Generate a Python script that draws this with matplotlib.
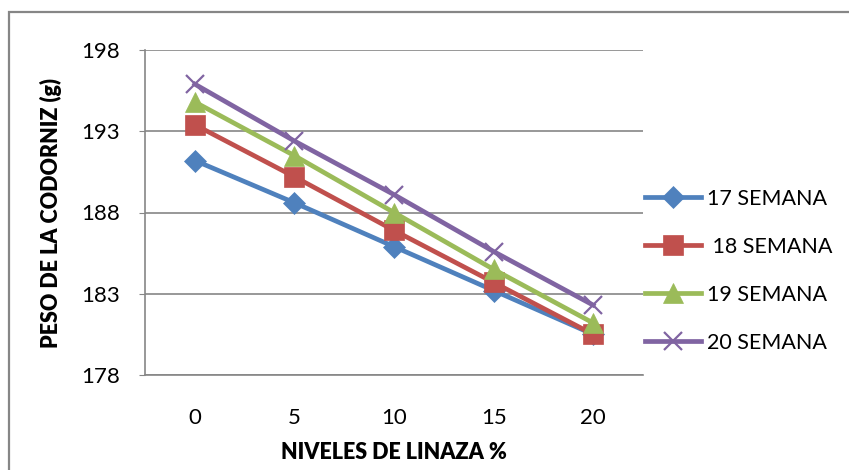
import matplotlib.pyplot as plt
from matplotlib.patches import Rectangle

plt.rcParams["font.family"] = ["Lato", "DejaVu Sans"]

NIVELES = [0, 5, 10, 15, 20]
SEM_17 = [191.2, 188.6, 185.9, 183.2, 180.5]
SEM_18 = [193.4, 190.2, 186.9, 183.7, 180.5]
SEM_19 = [194.8, 191.5, 188.0, 184.5, 181.2]
SEM_20 = [195.9, 192.4, 189.1, 185.6, 182.3]
LABELS = ["17 SEMANA", " 18 SEMANA", "19 SEMANA", "20 SEMANA"]
Y_TICKS = [178, 183, 188, 193, 198]

GRID = "#868686"

fig = plt.figure(figsize=(8.49, 4.70), dpi=100)
ax = fig.add_axes([145 / 849, 95 / 470, 498 / 849, 325 / 470])

fig.add_artist(Rectangle((9 / 849, -0.1), 1.2, 1.1 - 12 / 470,
                         transform=fig.transFigure, fill=False,
                         edgecolor=GRID, linewidth=1.6))

styles = [
    (SEM_17, "#4F81BD", "D", 11),
    (SEM_18, "#C0504D", "s", 14),
    (SEM_19, "#9BBB59", "^", 15),
    (SEM_20, "#8064A2", "x", 13),
]
pos = range(len(NIVELES))
for (vals, color, marker, ms), label in zip(styles, LABELS):
    ax.plot(pos, vals, color=color, linewidth=3.4, marker=marker, markersize=ms,
            markeredgewidth=1.6 if marker == "x" else 0.5,
            markeredgecolor=color, label=label)

ax.set_xlim(-0.5, 4.5)
ax.set_ylim(178, 198)
ax.set_yticks(Y_TICKS)
ax.set_xticks(list(pos))
ax.set_xticklabels([str(n) for n in NIVELES])
ax.tick_params(axis="y", length=4, color=GRID, labelsize=16, pad=14)
ax.tick_params(axis="x", length=0, labelsize=16, pad=24)
ax.grid(axis="y", color=GRID, linewidth=1.2)
ax.set_axisbelow(True)
for side in ["top", "right"]:
    ax.spines[side].set_visible(False)
for side in ["left", "bottom"]:
    ax.spines[side].set_color(GRID)
    ax.spines[side].set_linewidth(1.2)

ax.set_ylabel("PESO DE LA CODORNIZ (g)", fontsize=15.5, fontweight="heavy", labelpad=14)
ax.set_xlabel("NIVELES DE LINAZA %", fontsize=15.5, fontweight="heavy", labelpad=10)

fig.legend(loc="center left", bbox_to_anchor=(626 / 849, 199 / 470),
           frameon=False, fontsize=15.5, handlelength=2.6, labelspacing=1.3,
           handletextpad=0.25)

fig.savefig("out.png", dpi=100)
